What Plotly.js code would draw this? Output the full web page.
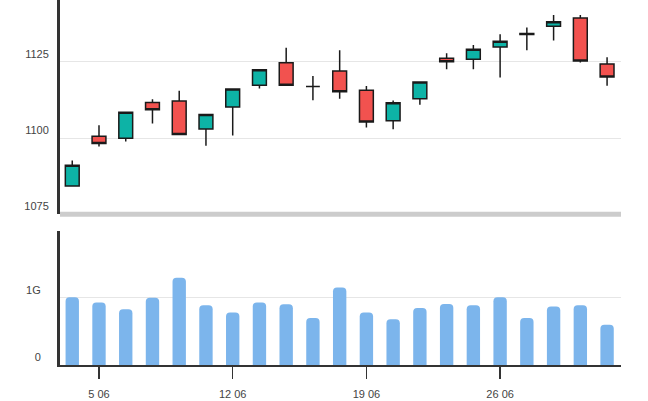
<!DOCTYPE html>
<html>
<head>
<meta charset="utf-8">
<script src="https://cdn.plot.ly/plotly-3.0.1.min.js"></script>
<style>html,body{margin:0;padding:0;background:#fff;}#chart{width:648px;height:401px;}</style>
</head>
<body>
<div id="chart"></div>
<script>
const dates = ['2023-06-02','2023-06-05','2023-06-06','2023-06-07','2023-06-08','2023-06-09',
  '2023-06-12','2023-06-13','2023-06-14','2023-06-15','2023-06-16',
  '2023-06-19','2023-06-20','2023-06-21','2023-06-22','2023-06-23',
  '2023-06-26','2023-06-27','2023-06-28','2023-06-29','2023-06-30'];
const openVals  = [1084.3,1100.6,1099.9,1111.7,1112.2,1103.0,1110.2,1117.3,1124.7,1116.9,1122.0,1115.7,1105.7,1112.9,1126.2,1125.9,1129.9,1134.0,1136.7,1139.4,1124.3];
const highVals  = [1092.6,1104.2,1108.5,1112.7,1115.5,1107.7,1116.1,1122.4,1129.6,1120.4,1128.8,1117.1,1112.3,1118.4,1127.8,1130.5,1134.1,1136.3,1140.4,1140.4,1126.5];
const lowVals   = [1084.3,1097.2,1098.9,1104.8,1101.2,1097.5,1100.8,1116.3,1117.3,1112.4,1112.9,1103.5,1102.9,1110.9,1122.6,1122.6,1119.9,1128.8,1132.0,1124.8,1117.2];
const closeVals = [1091.1,1098.2,1108.5,1109.3,1101.2,1107.7,1116.1,1122.4,1117.3,1116.9,1115.2,1105.3,1111.6,1118.4,1125.0,1129.1,1131.8,1134.3,1138.2,1125.3,1120.0];
const volumeVals = [1.01e9,0.93e9,0.83e9,1.0e9,1.30e9,0.89e9,0.78e9,0.93e9,0.905e9,0.70e9,1.155e9,0.78e9,0.68e9,0.85e9,0.91e9,0.89e9,1.01e9,0.70e9,0.87e9,0.89e9,0.60e9];
const xTickVals = ['2023-06-05','2023-06-12','2023-06-19','2023-06-26'];
const priceTicks = [1075,1100,1125];
const volTickVals = [0,1e9,2e9];
const volTickText = ['0','1G',''];

const font = {family:'"Liberation Sans", Arial, sans-serif', size:11, color:'#444'};

const candle = {
  type:'candlestick', x:dates, open:openVals, high:highVals, low:lowVals, close:closeVals,
  xaxis:'x', yaxis:'y', hoverinfo:'skip', showlegend:false,
  increasing:{line:{color:'#1a1a1a', width:1.5}, fillcolor:'#0db3a6'},
  decreasing:{line:{color:'#1a1a1a', width:1.5}, fillcolor:'#f2524f'}
};
const vol = {
  type:'bar', x:dates, y:volumeVals, xaxis:'x2', yaxis:'y2', hoverinfo:'skip', showlegend:false,
  marker:{color:'#7cb5ec', cornerradius:4, line:{width:0}}
};

const xr = ['2023-06-01 13:00','2023-06-30 12:30'];
const layout = {
  width:648, height:401,
  margin:{l:60, r:27, t:0, b:35.5},
  paper_bgcolor:'#fff', plot_bgcolor:'#fff',
  font:font, showlegend:false, bargap:0.5, boxgap:0.3, boxgroupgap:0.26,
  xaxis:{anchor:'y', domain:[0,1], type:'date', range:xr, rangebreaks:[{bounds:['sat','mon']}],
    showgrid:false, zeroline:false, showline:false, showticklabels:false, ticks:'',
    rangeslider:{visible:false}},
  xaxis2:{anchor:'y2', domain:[0,1], type:'date', matches:'x', range:xr, rangebreaks:[{bounds:['sat','mon']}],
    showgrid:false, zeroline:false, showline:true, linecolor:'#333', linewidth:1.5,
    ticks:'outside', ticklen:12, tickwidth:1.5, tickcolor:'#333',
    tickvals:xTickVals, tickformat:'%-d %m', ticklabelstandoff:6, tickfont:font},
  yaxis:{anchor:'x', domain:[0.413,1], range:[1075,1145.3], tickvals:priceTicks,
    showgrid:true, gridcolor:'#e6e6e6', gridwidth:1, zeroline:false,
    showline:true, linecolor:'#333', linewidth:3, ticks:'',
    ticklabelposition:'outside top', ticklabelstandoff:6, tickfont:font},
  yaxis2:{anchor:'x2', domain:[0,0.368], range:[0,2e9], tickvals:volTickVals, ticktext:volTickText,
    showgrid:true, gridcolor:'#e6e6e6', gridwidth:1, zeroline:false,
    showline:true, linecolor:'#333', linewidth:3, ticks:'',
    ticklabelposition:'outside top', ticklabelstandoff:14, tickfont:font},
  shapes:[{type:'line', xref:'x domain', yref:'y domain', x0:0, x1:1, y0:0, y1:0,
    line:{color:'#cccccc', width:5}}]
};

Plotly.newPlot('chart', [candle, vol], layout, {staticPlot:true, displayModeBar:false});
</script>
</body>
</html>
